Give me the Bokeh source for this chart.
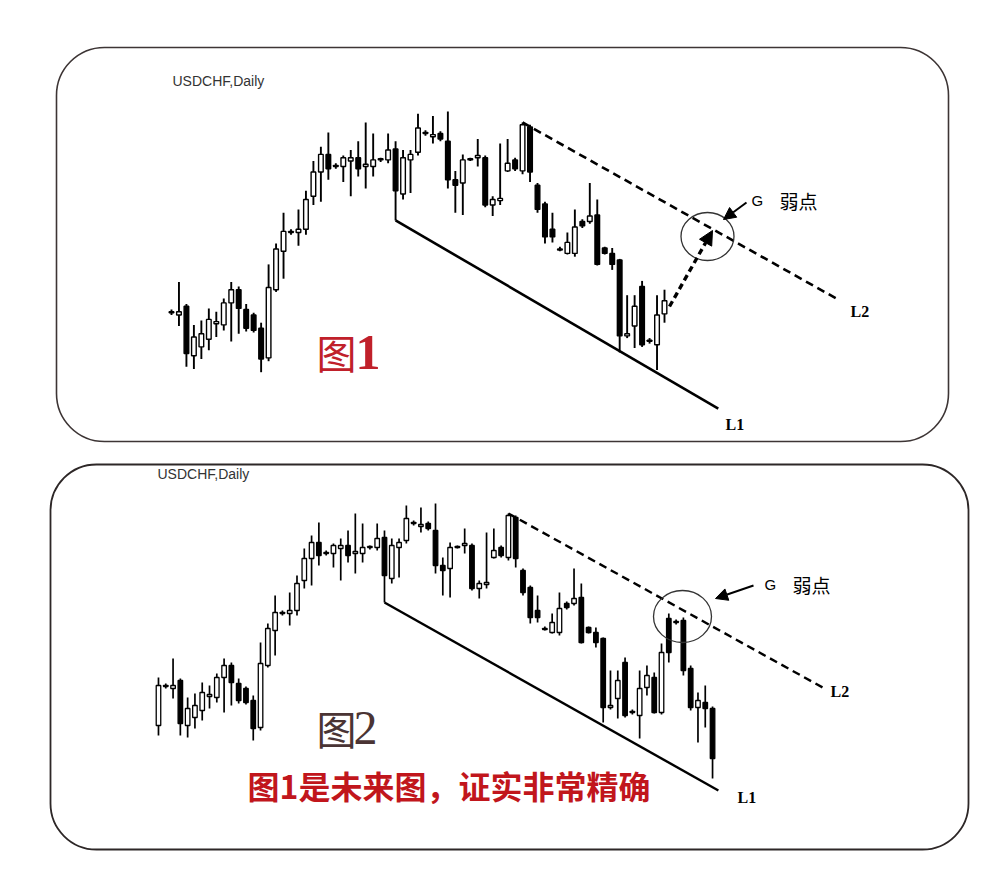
import numpy as np
from bokeh.plotting import figure
from bokeh.models import (Range1d, BoxAnnotation, Label, Arrow, NormalHead,
                          ColumnDataSource)
from bokeh.embed import file_html
from bokeh.resources import INLINE

# ---------------- data (USDCHF daily, price in pips above a base level) ----------------
open_ = [75, 115, 112, 120, 75, 83, 90, 104, 103, 123,
         135, 117, 112, 100, 73, 135, 170, 187, 187, 190,
         220, 242, 258, 248, 247, 252, 255, 247, 247, 253,
         253, 263, 222, 253, 260, 278, 274, 277, 270, 235,
         232, 254, 255, 255, 212, 216, 243, 253, 243, 283,
         230, 213, 190, 172, 168, 168, 197, 197, 203, 173,
         168, 162, 93, 102, 138, 89, 85, 113, 123, 88,
         182, 179, 180, 132, 93, 98, 92]
high = [123, 117, 142, 122, 103, 107, 118, 115, 127, 142,
        138, 122, 114, 105, 158, 177, 205, 190, 208, 225,
        252, 265, 278, 250, 257, 262, 270, 287, 277, 255,
        277, 270, 262, 262, 295, 280, 293, 279, 297, 243,
        258, 255, 272, 257, 220, 268, 272, 255, 287, 285,
        232, 215, 205, 174, 187, 208, 199, 232, 217, 174,
        173, 163, 130, 130, 143, 91, 130, 135, 128, 157,
        187, 181, 183, 135, 108, 115, 94]
low = [65, 112, 102, 65, 63, 72, 80, 92, 98, 88,
       95, 97, 96, 60, 70, 133, 145, 185, 175, 185,
       212, 215, 235, 245, 233, 220, 238, 227, 238, 251,
       250, 198, 217, 223, 257, 275, 268, 270, 227, 205,
       203, 252, 247, 210, 202, 212, 242, 243, 240, 233,
       205, 177, 178, 170, 167, 165, 191, 195, 157, 167,
       153, 78, 91, 82, 83, 86, 62, 105, 87, 86,
       138, 176, 125, 90, 58, 73, 22]
close = [115, 114, 115, 77, 92, 95, 108, 106, 123, 135,
         118, 100, 98, 72, 137, 172, 188, 188, 190, 217,
         242, 258, 245, 247, 255, 255, 245, 249, 253, 254,
         262, 225, 255, 258, 282, 277, 276, 272, 235, 230,
         253, 253, 257, 212, 217, 218, 250, 245, 285, 242,
         208, 183, 183, 171, 178, 192, 193, 202, 158, 168,
         158, 93, 95, 120, 85, 88, 112, 125, 88, 148,
         148, 178, 130, 93, 100, 92, 42]

# panel 1 shows bars 1..67 (the "future" chart), panel 2 all bars
panel1_bars = (1, 68)

# trend lines (bar index, price)
l1_p1_x, l1_p1_y = [31, 74.2], [198, 27]
l2_p1_x, l2_p1_y = [48, 90.0], [287, 127]
l1_p2_x, l1_p2_y = [31, 76.8], [198, 10]
l2_p2_x, l2_p2_y = [48, 91.1], [287, 113]

title_text = "USDCHF,Daily"
caption = "图1是未来图，证实非常精确"

# ---------------- figure ----------------
W, H = 992, 862
p = figure(width=W, height=H, output_backend="svg", toolbar_location=None,
           x_range=Range1d(0, 992), y_range=Range1d(-862, 0),
           x_axis_type=None, y_axis_type=None, min_border=0,
           background_fill_color="white", border_fill_color="white",
           outline_line_color=None)
p.grid.visible = False

p.extra_x_ranges = {"p1x": Range1d(-21.89, 110.91), "p2x": Range1d(-21.67, 114.40)}
p.extra_y_ranges = {"p1y": Range1d(-385.7, 397.9), "p2y": Range1d(-62, 800)}

# rounded panel frames
p.add_layout(BoxAnnotation(left=56, right=948, top=-47, bottom=-441,
                           fill_alpha=0, line_color="#3d3535", line_alpha=1.0,
                           line_width=1.6, border_radius=48))
p.add_layout(BoxAnnotation(left=50, right=968, top=-464, bottom=-849,
                           fill_alpha=0, line_color="#2d2727", line_alpha=1.0,
                           line_width=1.8, border_radius=46))

o = np.array(open_, float)
hi = np.array(high, float)
lo = np.array(low, float)
c = np.array(close, float)
idx = np.arange(len(o))


def draw_candles(sl, xr, yr, wick_w, body_lw):
    s = slice(*sl)
    oo, hh, ll, cc, xx = o[s], hi[s], lo[s], c[s], idx[s]
    up = cc >= oo
    src = ColumnDataSource(dict(
        x=xx, h=hh, l=ll,
        top=np.maximum(oo, cc), bottom=np.minimum(oo, cc),
        fill=np.where(up, "white", "black")))
    p.segment(x0="x", y0="h", x1="x", y1="l", source=src, line_color="black",
              line_width=wick_w, x_range_name=xr, y_range_name=yr)
    p.vbar(x="x", width=0.62, top="top", bottom="bottom", source=src,
           fill_color="fill", line_color="black", line_width=body_lw,
           x_range_name=xr, y_range_name=yr)


draw_candles(panel1_bars, "p1x", "p1y", 1.9, 1.4)
draw_candles((0, len(o)), "p2x", "p2y", 1.7, 1.3)

# trend lines
p.line(l1_p1_x, l1_p1_y, line_color="black", line_width=2.6,
       x_range_name="p1x", y_range_name="p1y")
p.line(l2_p1_x, l2_p1_y, line_color="black", line_width=2.6, line_dash="8 5",
       x_range_name="p1x", y_range_name="p1y")
p.line(l1_p2_x, l1_p2_y, line_color="black", line_width=2.4,
       x_range_name="p2x", y_range_name="p2y")
p.line(l2_p2_x, l2_p2_y, line_color="black", line_width=2.4, line_dash="8 5",
       x_range_name="p2x", y_range_name="p2y")

# circles
p.ellipse(x=[707, 682], y=[-236, -616], width=[53, 58], height=[48, 52],
          fill_color=None, line_color="#333333", line_width=1.3)

# arrows
p.add_layout(Arrow(x_start=669, y_start=-306, x_end=712, y_end=-230,
                   line_width=3.4, line_dash="6 4", line_color="black",
                   end=NormalHead(size=14, fill_color="black", line_color="black")))
p.add_layout(Arrow(x_start=746, y_start=-202, x_end=723, y_end=-219,
                   line_width=2, line_color="black",
                   end=NormalHead(size=12, fill_color="black", line_color="black")))
p.add_layout(Arrow(x_start=753, y_start=-585, x_end=715, y_end=-598,
                   line_width=2, line_color="black",
                   end=NormalHead(size=12, fill_color="black", line_color="black")))


def lab(x, y, text, font, size, color="black", style="normal", align="left"):
    p.add_layout(Label(x=x, y=y, text=text, text_font=font, text_font_size=size,
                       text_color=color, text_font_style=style,
                       text_baseline="middle", text_align=align))


cjk = "Noto Sans CJK SC"
lab(172, -80, title_text, "Liberation Sans", "14px", "#333333")
lab(157, -473, title_text, "Liberation Sans", "14px", "#333333")

lab(751, -200, "G", "Liberation Sans", "15px")
lab(779, -200, "弱点", cjk, "19px")
lab(764, -584, "G", "Liberation Sans", "15px")
lab(792, -584, "弱点", cjk, "19px")

lab(850, -311, "L2", "Liberation Serif", "16px", style="bold")
lab(725, -424, "L1", "Liberation Serif", "16px", style="bold")
lab(830, -691, "L2", "Liberation Serif", "16px", style="bold")
lab(737, -797, "L1", "Liberation Serif", "16px", style="bold")

lab(316, -351, "图", cjk, "40px", "#c0202a")
lab(355, -352, "1", "Liberation Serif", "50px", "#c0202a", style="bold")
lab(316, -727, "图", cjk, "40px", "#4a3434")
lab(353, -727, "2", "Liberation Serif", "48px", "#4a3434")

lab(247, -784, caption, cjk, "32px", "#c1161c", style="bold")

open("out.html", "w").write(file_html(p, INLINE))
